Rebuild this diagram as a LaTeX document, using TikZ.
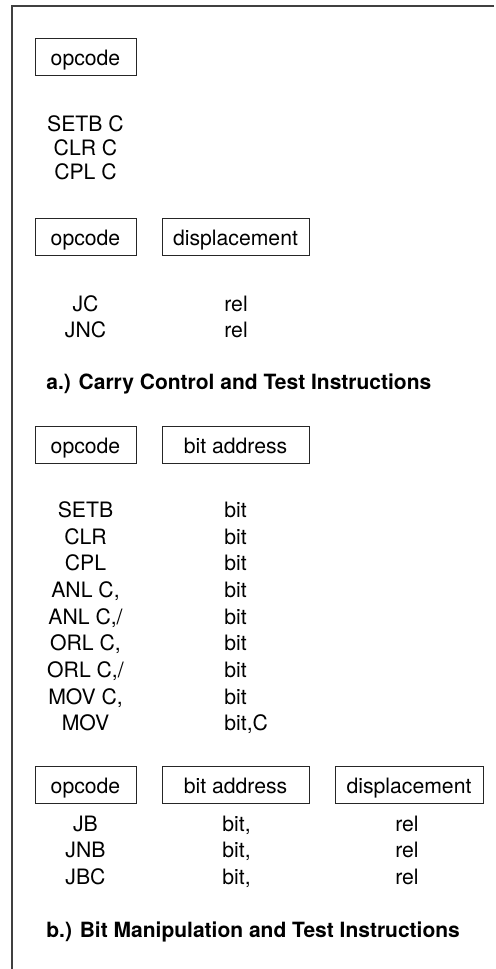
\documentclass[tikz,border=0pt]{standalone}
\usepackage{fontspec}
\setmainfont{TeX Gyre Heros}
\usepackage{tikz}
\usetikzlibrary{positioning}

\begin{document}
\begin{tikzpicture}[
    x=0.5pt, y=-0.5pt,
    font=\fontsize{10.6}{12.5}\selectfont,
    frame/.style={draw=black!75, line width=1pt},
    field/.style={draw=black!85, line width=0.5pt, inner sep=0pt, minimum height=18.5pt, text height=9pt, text depth=0.5pt},
    opfield/.style={field, minimum width=50.5pt},
    widefield/.style={field, minimum width=73.5pt},
    mnem/.style={anchor=base, inner sep=0pt},
    arg/.style={anchor=base west, inner sep=0pt},
    caption/.style={anchor=base west, inner sep=0pt, font=\fontsize{10.5}{12.5}\selectfont\bfseries}
]
\useasboundingbox (0,0) rectangle (495,969);

% 1. Frame
\coordinate (topleft) at (12,5.5);
\coordinate (topright) at (494,5.5);
\coordinate (bottomleft) at (12,969);
\draw[frame] (topright) -- (topleft) -- (bottomleft);

% 2. Carry control: opcode only
\node[opfield] (opA) at (85.5,56.5) {opcode};

\node[mnem] (setbc) at (85.5,131) {SETB C};
\node[mnem] (clrc) at (85.5,155) {CLR C};
\node[mnem] (cplc) at (85.5,179.5) {CPL C};

% 3. Carry test: opcode + displacement
\node[opfield] (opB) at (85.5,237) {opcode};
\node[widefield, right=12.5pt of opB] (dispB) {displacement};

\node[mnem] (jc) at (85.5,311.5) {JC};
\node[arg] (jcrel) at (224,311.5) {rel};
\node[mnem] (jnc) at (85.5,337) {JNC};
\node[arg] (jncrel) at (224,337) {rel};

\node[caption] (capA) at (46,389) {a.) Carry Control and Test Instructions};

% 4. Bit manipulation: opcode + bit address
\node[opfield] (opC) at (85.5,444.5) {opcode};
\node[widefield, right=12.5pt of opC] (addrC) {bit address};

\node[mnem] (setb) at (85.5,517.3) {SETB};
\node[arg] (setbbit) at (224,517.3) {bit};
\node[mnem] (clr) at (85.5,544) {CLR};
\node[arg] (clrbit) at (224,544) {bit};
\node[mnem] (cpl) at (85.5,570.7) {CPL};
\node[arg] (cplbit) at (224,570.7) {bit};
\node[mnem] (anl) at (85.5,597.3) {ANL C,};
\node[arg] (anlbit) at (224,597.3) {bit};
\node[mnem] (anln) at (85.5,624) {ANL C,/};
\node[arg] (anlnbit) at (224,624) {bit};
\node[mnem] (orl) at (85.5,650.7) {ORL C,};
\node[arg] (orlbit) at (224,650.7) {bit};
\node[mnem] (orln) at (85.5,677.3) {ORL C,/};
\node[arg] (orlnbit) at (224,677.3) {bit};
\node[mnem] (movc) at (85.5,704) {MOV C,};
\node[arg] (movcbit) at (224,704) {bit};
\node[mnem] (mov) at (85.5,730.7) {MOV};
\node[arg] (movbit) at (224,730.7) {bit,C};

% 5. Bit test: opcode + bit address + displacement
\node[opfield] (opD) at (85.5,784.5) {opcode};
\node[widefield, right=12.5pt of opD] (addrD) {bit address};
\node[widefield, minimum width=74pt, right=12.5pt of addrD] (dispD) {displacement};

\node[mnem] (jb) at (85.5,831) {JB};
\node[arg] (jbbit) at (222,831) {bit,};
\node[mnem] (jbrel) at (407,831) {rel};
\node[mnem] (jnb) at (85.5,857.7) {JNB};
\node[arg] (jnbbit) at (222,857.7) {bit,};
\node[mnem] (jnbrel) at (407,857.7) {rel};
\node[mnem] (jbc) at (85.5,884.3) {JBC};
\node[arg] (jbcbit) at (222,884.3) {bit,};
\node[mnem] (jbcrel) at (407,884.3) {rel};

\node[caption] (capB) at (46,937) {b.) Bit Manipulation and Test Instructions};

\end{tikzpicture}
\end{document}
